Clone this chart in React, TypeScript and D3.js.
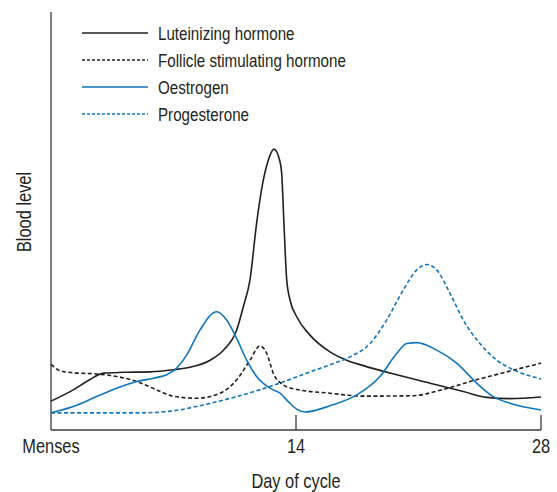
import * as d3 from 'd3';

// day of cycle / relative blood level (0-100)
const lhDays = [0, 1.27, 2.23, 2.99, 4.13, 5.66, 6.99, 7.94, 9.09, 9.85, 10.61, 10.99, 11.37, 11.75, 12.1, 12.42, 12.74, 13.06, 13.18, 13.31, 13.47, 13.66, 14.04, 14.8, 15.94, 16.9, 17.85, 19.75, 21.66, 23.56, 24.9, 26.23, 28];
const lhLevels = [6.9, 9.6, 12.1, 13.6, 13.8, 13.9, 14.4, 15.0, 16.7, 19.1, 23.9, 29.5, 35.9, 49.5, 59.1, 64.6, 67.2, 64.6, 61.5, 49.5, 35.9, 31.1, 27.1, 22.7, 18.7, 16.7, 15.4, 13.2, 11.2, 9.2, 7.8, 7.5, 7.9];

const fshDays = [0, 0.51, 1.27, 2.61, 3.75, 4.9, 6.04, 6.99, 8.33, 9.66, 10.61, 11.37, 11.94, 12.33, 12.7, 13.27, 14.04, 15.94, 17.85, 20.7, 22.23, 24.13, 26.23, 28];
const fshLevels = [15.7, 14.2, 13.7, 13.4, 12.8, 11.6, 9.6, 8.1, 7.6, 8.8, 12.0, 16.7, 20.1, 18.3, 13.6, 10.8, 9.7, 8.8, 8.1, 8.2, 9.5, 11.8, 14.1, 16.0];

const oeDays = [0, 1.27, 2.61, 3.75, 4.9, 5.85, 6.61, 7.18, 7.75, 8.51, 9.47, 10.04, 10.61, 11.18, 11.75, 12.51, 13.09, 13.56, 14.04, 14.51, 15.94, 17.47, 18.8, 19.75, 20.33, 20.9, 22.04, 23.18, 24.33, 25.27, 26.23, 28];
const oeLevels = [4.1, 5.6, 8.0, 10.0, 11.6, 12.4, 13.2, 14.8, 17.9, 23.9, 28.3, 26.3, 21.9, 16.7, 12.8, 10.0, 8.8, 6.8, 5.0, 4.3, 5.8, 8.4, 12.8, 18.3, 20.7, 20.9, 19.1, 16.0, 11.2, 8.0, 6.4, 4.8];

const progDays = [0, 5.09, 6.99, 8.7, 10.61, 12.51, 14.8, 15.94, 17.09, 18.23, 19.18, 20.13, 20.9, 21.47, 22.04, 22.8, 23.56, 24.51, 25.47, 26.23, 28];
const progLevels = [4.1, 4.1, 4.6, 6.0, 8.0, 10.4, 13.9, 15.6, 17.5, 20.7, 26.3, 33.5, 38.3, 39.6, 38.3, 32.7, 26.3, 20.7, 16.7, 14.8, 12.2];

const seriesNames = ['Luteinizing hormone', 'Follicle stimulating hormone', 'Oestrogen', 'Progesterone'];
const tickDays = [0, 14, 28];
const tickLabels = ['Menses', '14', '28'];

const BLACK = '#231f20';
const BLUE = '#0f75bc';
const FONT = "'Liberation Sans', Arial, sans-serif";
// no narrow face installed, so squeeze the regular one
const NARROW = 0.82;

export default function App() {
  const width = 557;
  const height = 492;

  const x = d3.scaleLinear().domain([0, 28]).range([51, 541]);
  const y = d3.scaleLinear().domain([0, 100]).range([430, 12]);

  const line = d3
    .line<[number, number]>()
    .x((d) => x(d[0]))
    .y((d) => y(d[1]))
    .curve(d3.curveMonotoneX);

  const series = [
    { name: seriesNames[0], days: lhDays, levels: lhLevels, color: BLACK, dash: undefined },
    { name: seriesNames[1], days: fshDays, levels: fshLevels, color: BLACK, dash: '4 2.5' },
    { name: seriesNames[2], days: oeDays, levels: oeLevels, color: BLUE, dash: undefined },
    { name: seriesNames[3], days: progDays, levels: progLevels, color: BLUE, dash: '4 2.5' },
  ];

  return (
    <svg
      width={width}
      height={height}
      style={{ position: 'absolute', left: 0, top: 0, background: '#fff' }}
      fontFamily={FONT}
    >
      {/* axes */}
      <line x1={x(0)} x2={x(0)} y1={y(100)} y2={y(0)} stroke="#3a3a3a" strokeWidth={1.3} />
      <line x1={x(0)} x2={x(28)} y1={y(0)} y2={y(0)} stroke="#3a3a3a" strokeWidth={1.3} />
      {tickDays.map((d, i) => (
        <g key={d}>
          {d > 0 && <line x1={x(d)} x2={x(d)} y1={y(0) - 15} y2={y(0)} stroke="#3a3a3a" strokeWidth={1.3} />}
          <text
            transform={`translate(${x(d)}, 453) scale(${NARROW}, 1)`}
            textAnchor="middle"
            fontSize={20}
            fill={BLACK}
          >
            {tickLabels[i]}
          </text>
        </g>
      ))}
      <text
        transform={`translate(${x(14)}, 488) scale(${NARROW}, 1)`}
        textAnchor="middle"
        fontSize={20}
        fill={BLACK}
      >
        Day of cycle
      </text>
      <text
        transform={`translate(31, 212) rotate(-90) scale(${NARROW}, 1)`}
        textAnchor="middle"
        fontSize={20}
        fill={BLACK}
      >
        Blood level
      </text>

      {/* curves */}
      {series.map((s) => (
        <path
          key={s.name}
          d={line(s.days.map((d, i) => [d, s.levels[i]] as [number, number])) || ''}
          fill="none"
          stroke={s.color}
          strokeWidth={1.6}
          strokeDasharray={s.dash}
        />
      ))}

      {/* legend */}
      {series.map((s, i) => (
        <g key={'lg' + s.name} transform={`translate(82, ${33 + i * 27})`}>
          <line x1={0} x2={66} y1={0} y2={0} stroke={s.color} strokeWidth={1.4} strokeDasharray={s.dash ? '3 2' : undefined} />
          <text transform={`translate(76, 6.5) scale(${NARROW}, 1)`} fontSize={18.5} fill={BLACK}>
            {s.name}
          </text>
        </g>
      ))}
    </svg>
  );
}
